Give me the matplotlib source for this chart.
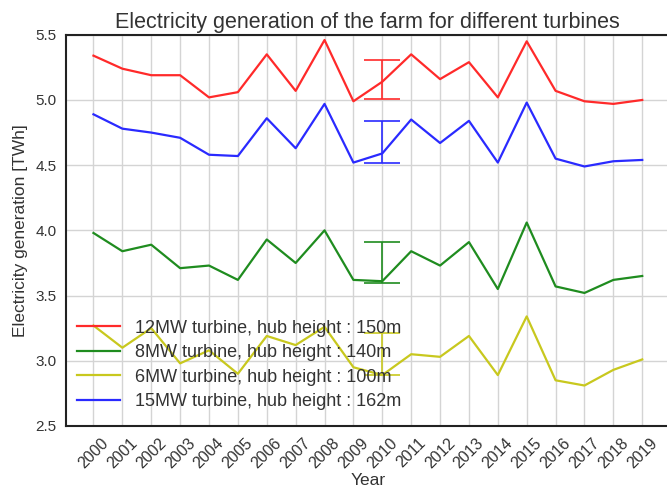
import numpy as np
import matplotlib
matplotlib.use("Agg")
import matplotlib.pyplot as plt

plt.rcParams['font.family'] = ['Liberation Sans', 'DejaVu Sans']

years = list(range(2000, 2020))

gen_12mw = [5.34, 5.24, 5.19, 5.19, 5.02, 5.06, 5.35, 5.07, 5.46, 4.99,
            5.14, 5.35, 5.16, 5.29, 5.02, 5.45, 5.07, 4.99, 4.97, 5.00]
gen_8mw = [3.98, 3.84, 3.89, 3.71, 3.73, 3.62, 3.93, 3.75, 4.00, 3.62,
           3.61, 3.84, 3.73, 3.91, 3.55, 4.06, 3.57, 3.52, 3.62, 3.65]
gen_6mw = [3.27, 3.10, 3.25, 2.98, 3.08, 2.90, 3.19, 3.12, 3.26, 2.95,
           2.89, 3.05, 3.03, 3.19, 2.89, 3.34, 2.85, 2.81, 2.93, 3.01]
gen_15mw = [4.89, 4.78, 4.75, 4.71, 4.58, 4.57, 4.86, 4.63, 4.97, 4.52,
            4.59, 4.85, 4.67, 4.84, 4.52, 4.98, 4.55, 4.49, 4.53, 4.54]

labels = ["12MW turbine, hub height : 150m",
          "8MW turbine, hub height : 140m",
          "6MW turbine, hub height : 100m",
          "15MW turbine, hub height : 162m"]
colors = ["#ff2a2a", "#1f8c1f", "#c8c81e", "#2a2aff"]

# error bar drawn at a single year for each turbine (centre, half-width)
err_year = 2010
err_mean = [5.16, 3.755, 3.05, 4.68]
err_half = [0.15, 0.155, 0.16, 0.16]

fig = plt.figure(figsize=(6.67, 4.97), dpi=100)
ax = fig.add_axes([0.099, 0.143, 0.905, 0.787])

series = [gen_12mw, gen_8mw, gen_6mw, gen_15mw]
for vals, lab, col, m, h in zip(series, labels, colors, err_mean, err_half):
    ax.plot(years, vals, color=col, lw=1.6, label=lab)
    ax.errorbar([err_year], [m], yerr=[h], color=col, lw=1.2,
                capsize=13, capthick=1.2, fmt='none')

ax.set_ylim(2.5, 5.5)
ax.set_yticks(np.arange(2.5, 5.51, 0.5))
ax.set_xticks(years)
ax.set_xticklabels([str(y) for y in years], rotation=45, fontsize=11.5)
ax.tick_params(axis='y', labelsize=11)
ax.tick_params(length=0, pad=7, labelcolor="#333333")
ax.grid(True, color="#d4d4d4", lw=1)
ax.set_axisbelow(True)
for s in ax.spines.values():
    s.set_color("#222222")
    s.set_linewidth(1.5)

ax.set_xlabel("Year", fontsize=12.5, color="#333333", labelpad=1)
ax.set_ylabel("Electricity generation [TWh]", fontsize=12.5, color="#333333",
              labelpad=5)
ax.set_title("Electricity generation of the farm for different turbines",
             fontsize=15.5, color="#333333", pad=5)

ax.legend(loc="lower left", frameon=False, fontsize=13, labelcolor="#333333",
          handlelength=2.4, borderaxespad=0.2, labelspacing=0.42,
          bbox_to_anchor=(0.0, 0.012))

fig.savefig("out.png", dpi=100)
